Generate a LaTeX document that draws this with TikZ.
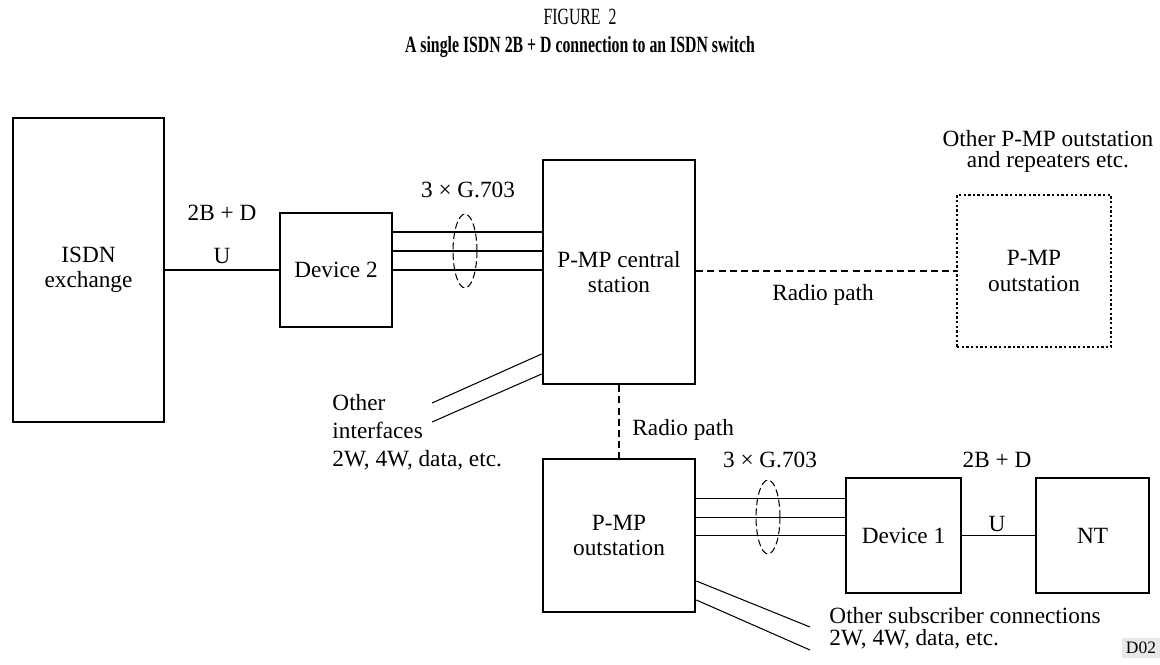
\documentclass[tikz,border=0pt]{standalone}
\usepackage{fontspec}
\setmainfont{Liberation Serif}
\usepackage{graphicx}
\usetikzlibrary{calc,shapes.geometric}

\begin{document}
\begin{tikzpicture}[
x=0.43pt,y=-0.43pt,
font=\fontsize{10}{10.8}\selectfont,
box/.style={draw,line width=1.1pt,inner sep=0pt,align=center},
dotbox/.style={draw,line width=1.2pt,dash pattern=on 1pt off 1pt,inner sep=0pt,align=center},
link/.style={line width=0.45pt},
radio/.style={line width=0.9pt,dash pattern=on 3pt off 1.8pt},
bundle/.style={ellipse,draw,line width=0.45pt,dash pattern=on 3pt off 1.5pt,inner sep=0pt,minimum width=10.3pt,minimum height=31.8pt},
lbl/.style={inner sep=0pt}
]

\useasboundingbox
(0,0)
rectangle
(1160,664);

% Titre
\node[lbl]
(fig)
at (580,17)
{\scalebox{0.68}[1]{FIGURE~~2}};

\node[lbl,font=\bfseries]
(title)
at (580,47)
{\scalebox{0.68}[1]{A single ISDN 2B + D connection to an ISDN switch}};

% Boîtes
\node[box,minimum width=64.9pt,minimum height=130.7pt]
(exch)
at (88.5,270)
{ISDN\\exchange};

\node[box,minimum width=48.2pt,minimum height=49pt]
(dev2)
at (336,270)
{Device 2};

\node[box,minimum width=65.4pt,minimum height=96.3pt]
(cent)
at (619,272)
{P-MP central\\station};

\node[dotbox,minimum width=66.2pt,minimum height=65.4pt]
(farout)
at (1034,271)
{P-MP\\outstation};

\node[box,minimum width=65.4pt,minimum height=65.8pt]
(outst)
at (619,535.5)
{P-MP\\outstation};

\node[box,minimum width=49.5pt,minimum height=49.5pt]
(dev1)
at (903.5,535.5)
{Device 1};

\node[box,minimum width=48.6pt,minimum height=49.5pt]
(nt)
at (1092.5,535.5)
{NT};

% Liaisons
\draw[link]
(exch.east)
--
(dev2.west);

\node[lbl,anchor=base]
(bwa)
at (222,220)
{2B + D};

\node[lbl,anchor=base]
(ua)
at (222,263)
{U};

\foreach \dy [count=\i] in {-38,-19,0}
{\coordinate (ga\i) at ($(dev2.east)+(0,\dy)$);
\draw[link] (ga\i) -- (ga\i -| cent.west);}

\node[bundle]
(ea)
at (465,251)
{};

\node[lbl,anchor=base]
(gla)
at (468,197)
{3 × G.703};

\draw[radio]
(cent.east |- farout.west)
--
(farout.west);

\node[lbl,anchor=base]
(rh)
at (823,300)
{Radio path};

\node[lbl,anchor=north,align=center,font={\fontsize{10}{9}\selectfont\lineskiplimit=-5pt}]
(oout)
at (1048,130)
{Other P-MP outstation\\and repeaters etc.};

\coordinate (ia) at (432,403);
\coordinate (ib) at (432,422);

\draw[link]
(ia)
--
($(cent.west)+(0,82)$);

\draw[link]
(ib)
--
($(cent.west)+(0,102)$);

\node[lbl,anchor=north west,align=left,font={\fontsize{10}{12}\selectfont}]
(oif)
at (332,394)
{Other\\interfaces\\2W, 4W, data, etc.};

\draw[radio]
(cent.south)
--
(outst.north);

\node[lbl,anchor=base west]
(rv)
at (632,435)
{Radio path};

\foreach \dy [count=\i] in {-37,-18,0}
{\coordinate (gb\i) at ($(outst.east)+(0,\dy)$);
\draw[link] (gb\i) -- (gb\i -| dev1.west);}

\node[bundle]
(eb)
at (768,517)
{};

\node[lbl,anchor=base]
(glb)
at (770,467)
{3 × G.703};

\draw[link]
(dev1.east)
--
(nt.west);

\node[lbl,anchor=base]
(bwb)
at (997,467)
{2B + D};

\node[lbl,anchor=base]
(ub)
at (997,531)
{U};

\coordinate (sa) at (810,627);
\coordinate (sb) at (810,650);

\draw[link]
($(outst.east)+(0,45.5)$)
--
(sa);

\draw[link]
($(outst.east)+(0,64.5)$)
--
(sb);

\node[lbl,anchor=north west,align=left,font={\fontsize{10}{9.2}\selectfont\lineskiplimit=-5pt}]
(osub)
at (829,607)
{Other subscriber connections\\2W, 4W, data, etc.};

\node[fill=gray!18,inner sep=0pt,minimum width=16.3pt,minimum height=8.6pt,font=\fontsize{7.5}{8}\selectfont]
(ref)
at (1141,648)
{D02};

\end{tikzpicture}
\end{document}
